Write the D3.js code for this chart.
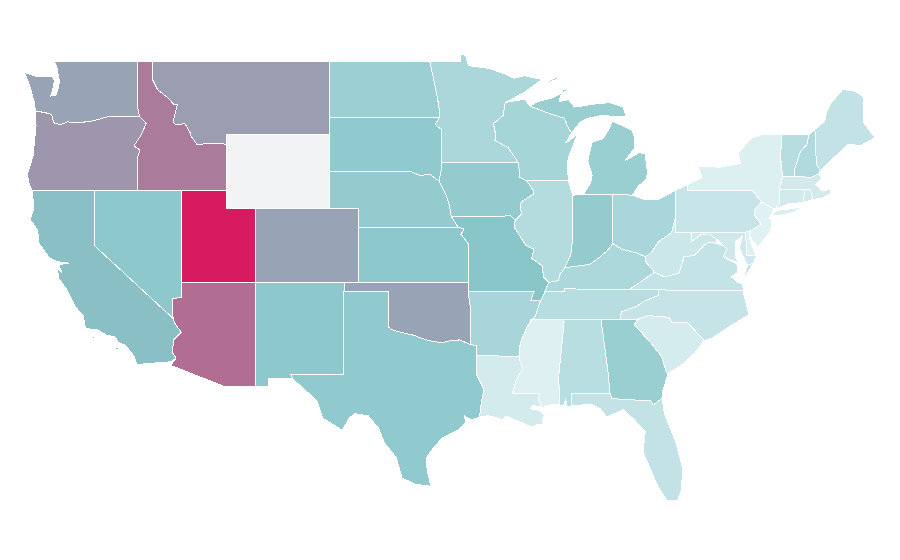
<!DOCTYPE html>
<html>
<head>
<meta charset="utf-8">
<script src="https://cdn.jsdelivr.net/npm/d3@7"></script>
<style>
  html, body { margin: 0; padding: 0; background: #fff; }
  svg { display: block; }
</style>
</head>
<body>
<script>
const stateNames = ["WA","OR","CA","NV","ID","MT","UT","AZ","CO","NM","ND","SD","NE","KS","OK","TX","MN","IA","MO","AR","LA","WI","IL","IN","MI","OH","KY","TN","MS","AL","GA","FL","SC","NC","VA","WV","PA","MD","DE","NJ","NY","CT","RI","MA","VT","NH","ME","WY"];

// values, Wyoming has none
const stateValues = [60,64,52,47,72,62,100,76,60,48,39,45,44,47,60,45,30,44,50,32,7,33,25,44,40,31,29,23,1,22,40,17,6,15,16,12,14,10,2,0,2,8,8,8,23,27,17,null];

const colorDomain = [0, 50, 100];
const colorRange = ["#e0f1f3", "#88c6ca", "#d81b60"];
const noDataColor = "#f2f3f5";

// lon/lat outlines, same order as stateNames
const stateShapes = [
  [[[-124.73,48.38],[-123.9,48.15],[-123.1,48.15],[-122.85,48.15],[-122.7,47.9],[-122.8,47.5],[-122.95,47.1],[-122.6,47.15],[-122.45,47.5],[-122.35,47.9],[-122.45,48.25],[-122.55,48.7],[-122.76,49],[-117.03,49],[-117.04,46.42],[-116.92,46],[-118.98,46],[-119.3,45.93],[-120.2,45.73],[-121.2,45.65],[-121.8,45.7],[-122.3,45.55],[-122.75,45.65],[-122.9,46.1],[-123.4,46.22],[-124,46.27],[-124.05,46.7],[-124.15,47],[-124.4,47.7]]],
  [[[-124,46.27],[-123.4,46.22],[-122.9,46.1],[-122.75,45.65],[-122.3,45.55],[-121.8,45.7],[-121.2,45.65],[-120.2,45.73],[-119.3,45.93],[-118.98,46],[-116.92,46],[-116.55,45.7],[-116.47,45.6],[-116.85,44.95],[-117.3,44.4],[-117.03,44.25],[-116.9,44.15],[-117.03,43.83],[-117.03,42],[-124.21,42],[-124.4,42.3],[-124.55,42.85],[-124.4,43.2],[-124.15,43.9],[-124.05,44.7],[-123.95,45.5]]],
  [[[-124.21,42],[-120,42],[-120,39],[-114.65,35.05],[-114.55,34.8],[-114.1,34.3],[-114.6,33.9],[-114.7,33.2],[-114.45,32.9],[-114.75,32.7],[-117.1,32.55],[-117.3,33],[-117.9,33.6],[-118.4,33.75],[-118.55,34.03],[-119.2,34.15],[-119.75,34.42],[-120.6,34.5],[-120.75,35.2],[-121.3,35.7],[-121.85,36.6],[-122.4,37.2],[-122.5,37.75],[-122.2,37.55],[-122.4,37.95],[-121.75,38.05],[-122.45,38.12],[-123,38.3],[-123.75,39.1],[-123.85,39.85],[-124.35,40.4],[-124.1,41]],
   [[-120.2,34.02],[-119.95,34.06],[-119.95,33.94],[-120.2,33.94]],[[-119.9,33.98],[-119.7,34.02],[-119.7,33.94],[-119.9,33.94]],[[-118.55,33.45],[-118.35,33.45],[-118.35,33.35],[-118.55,33.35]]],
  [[[-120,42],[-114.05,42],[-114.05,36.2],[-114.7,36.1],[-114.65,35.05],[-120,39]]],
  [[[-117.03,49],[-116.05,49],[-116.05,48],[-115.7,47.45],[-115,47],[-114.6,46.65],[-114.35,46.65],[-114.65,45.7],[-114.45,45.55],[-113.84,45.6],[-113.45,45.05],[-113.45,44.95],[-113,44.45],[-112.3,44.55],[-111.5,44.55],[-111.05,44.48],[-111.05,42],[-117.03,42],[-117.03,43.83],[-116.9,44.15],[-117.03,44.25],[-117.3,44.4],[-116.85,44.95],[-116.47,45.6],[-116.55,45.7],[-116.92,46],[-117.04,46.42]]],
  [[[-116.05,49],[-104.05,49],[-104.05,45],[-111.05,45],[-111.05,44.48],[-111.5,44.55],[-112.3,44.55],[-113,44.45],[-113.45,44.95],[-113.45,45.05],[-113.84,45.6],[-114.45,45.55],[-114.65,45.7],[-114.35,46.65],[-114.6,46.65],[-115,47],[-115.7,47.45],[-116.05,48]]],
  [[[-114.05,42],[-111.05,42],[-111.05,41],[-109.05,41],[-109.05,37],[-114.05,37]]],
  [[[-114.05,37],[-109.05,37],[-109.05,31.33],[-111.07,31.33],[-114.8,32.5],[-114.45,32.9],[-114.7,33.2],[-114.6,33.9],[-114.1,34.3],[-114.55,34.8],[-114.65,35.05],[-114.7,36.1],[-114.05,36.2]]],
  [[[-109.05,41],[-102.05,41],[-102.05,37],[-109.05,37]]],
  [[[-109.05,37],[-103,37],[-103.05,32],[-106.65,32],[-106.5,31.78],[-108.2,31.78],[-108.2,31.33],[-109.05,31.33]]],
  [[[-104.05,49],[-97.23,49],[-96.9,47.8],[-96.7,47],[-96.55,46.2],[-96.56,45.94],[-104.05,45.94]]],
  [[[-104.05,45.94],[-96.56,45.94],[-96.85,45.55],[-96.45,45.3],[-96.45,43.5],[-96.45,43.1],[-96.6,42.5],[-97.2,42.85],[-97.9,42.8],[-98.5,43],[-104.05,43]]],
  [[[-104.05,43],[-98.5,43],[-97.9,42.8],[-97.2,42.85],[-96.6,42.5],[-96.1,41.7],[-95.9,41.2],[-95.77,40.58],[-95.3,40],[-102.05,40],[-102.05,41],[-104.05,41]]],
  [[[-102.05,40],[-95.3,40],[-94.9,39.9],[-95.1,39.6],[-94.62,39.1],[-94.62,37],[-102.05,37]]],
  [[[-103,37],[-94.62,37],[-94.62,36.5],[-94.43,35.4],[-94.48,33.64],[-95.2,33.88],[-95.8,33.85],[-96.4,33.72],[-97,33.8],[-97.3,33.85],[-97.7,33.95],[-98.3,34.13],[-99.2,34.3],[-99.7,34.4],[-100,34.56],[-100,36.5],[-103,36.5]]],
  [[[-103.05,36.5],[-100,36.5],[-100,34.56],[-99.7,34.4],[-99.2,34.3],[-98.3,34.13],[-97.7,33.95],[-97.3,33.85],[-97,33.8],[-96.4,33.72],[-95.8,33.85],[-95.2,33.88],[-94.48,33.64],[-94.04,33.55],[-94.04,33.02],[-94.04,31.99],[-93.55,31.2],[-93.7,30.6],[-93.85,29.7],[-94.4,29.55],[-94.85,29.75],[-94.8,29.4],[-95.2,29.05],[-96.4,28.55],[-97,28],[-97.45,27.5],[-97.4,26.8],[-97.15,25.95],[-98.2,26.05],[-99.1,26.4],[-99.5,27.5],[-100.3,28.3],[-100.7,29.1],[-101.4,29.77],[-102.3,29.88],[-102.7,29.65],[-103.15,28.98],[-104.5,29.65],[-104.9,30.6],[-106.5,31.75],[-106.65,32],[-103.05,32]]],
  [[[-97.23,49],[-95.15,49],[-95.15,49.38],[-94.8,49.3],[-94.6,48.75],[-93.2,48.6],[-92.3,48.35],[-91.5,48.07],[-90.8,48.2],[-89.6,48],[-90.8,47.3],[-92.1,46.75],[-92.25,46.05],[-92.9,45.6],[-92.75,45],[-92.8,44.7],[-91.9,44.3],[-91.22,43.5],[-96.45,43.5],[-96.45,45.3],[-96.85,45.55],[-96.6,45.9],[-96.55,46.2],[-96.7,47],[-96.9,47.8]]],
  [[[-96.45,43.5],[-91.22,43.5],[-91.1,42.7],[-90.65,42.5],[-90.2,42],[-90.15,41.8],[-90.95,41.4],[-91.1,41.2],[-91,40.7],[-91.42,40.38],[-91.73,40.6],[-95.77,40.58],[-95.9,41.2],[-96.1,41.7],[-96.6,42.5],[-96.45,43.1]]],
  [[[-95.77,40.58],[-91.73,40.6],[-91.42,40.38],[-91.5,40],[-91.1,39.5],[-90.7,39],[-90.15,38.8],[-90.3,38.3],[-89.6,37.9],[-89.5,37.3],[-89.15,37],[-89.4,36.5],[-89.7,36],[-90.37,36],[-90.15,36.5],[-94.62,36.5],[-94.62,37],[-94.62,39.1],[-95.1,39.6],[-94.9,39.9],[-95.3,40]]],
  [[[-94.62,36.5],[-90.15,36.5],[-90.37,36],[-89.7,36],[-90.1,35.1],[-90.3,35],[-90.6,34.6],[-91,33.9],[-91.15,33.4],[-91.17,33],[-94.04,33.02],[-94.04,33.55],[-94.48,33.64],[-94.43,35.4]]],
  [[[-94.04,33.02],[-91.17,33],[-91.05,32.6],[-90.9,32.33],[-91.15,32],[-91.4,31.6],[-91.6,31],[-89.75,31],[-89.85,30.65],[-89.6,30.2],[-90.2,30.35],[-90.4,30.15],[-89.75,30.05],[-89.45,29.8],[-89.6,29.4],[-89.15,29.05],[-89.6,29.3],[-89.95,29.3],[-90.2,29.15],[-90.7,29.3],[-91.3,29.5],[-92,29.75],[-92.3,29.55],[-93.2,29.78],[-93.85,29.7],[-93.7,30.6],[-93.55,31.2],[-94.04,31.99]]],
  [[[-92.1,46.75],[-91.2,46.87],[-90.8,46.95],[-90.4,46.55],[-89.1,46.15],[-88.1,45.9],[-87.8,45.35],[-87.6,45.1],[-88,44.55],[-87.4,44.9],[-87.1,45.25],[-87.55,44.3],[-87.8,43.8],[-87.9,43.3],[-87.8,42.5],[-90.65,42.5],[-91.1,42.7],[-91.22,43.5],[-91.9,44.3],[-92.8,44.7],[-92.75,45],[-92.9,45.6],[-92.25,46.05]]],
  [[[-90.65,42.5],[-87.8,42.5],[-87.53,41.72],[-87.53,39.35],[-87.65,38.5],[-88.05,37.8],[-88.4,37.4],[-88.5,37.1],[-89.15,37],[-89.5,37.3],[-89.6,37.9],[-90.3,38.3],[-90.15,38.8],[-90.7,39],[-91.1,39.5],[-91.5,40],[-91.42,40.38],[-91,40.7],[-91.1,41.2],[-90.95,41.4],[-90.15,41.8],[-90.2,42]]],
  [[[-87.53,41.72],[-87.2,41.75],[-86.8,41.76],[-84.8,41.76],[-84.8,39.1],[-85.2,38.7],[-85.8,38.3],[-86.3,38],[-87,37.9],[-88.05,37.8],[-87.65,38.5],[-87.53,39.35]]],
  [[[-86.8,41.76],[-84.8,41.76],[-83.45,41.73],[-83.1,42.2],[-82.5,42.6],[-82.45,43],[-82.6,43.95],[-83,44.05],[-83.95,43.6],[-83.3,44.3],[-83.3,44.8],[-83.5,45.25],[-84.85,45.75],[-85,45.4],[-85.45,44.8],[-86.2,44.6],[-86.5,43.6],[-86.2,42.8],[-86.3,42.4]],
   [[-87.6,45.1],[-87,45.7],[-86.5,45.9],[-85.5,46.05],[-84.85,46],[-83.9,46],[-84.1,46.5],[-85,46.75],[-86.2,46.65],[-87.4,46.5],[-87.8,46.9],[-88.45,46.8],[-88.2,47.45],[-87.8,47.45],[-88.9,47],[-89.9,46.8],[-90.4,46.55],[-89.1,46.15],[-88.1,45.9],[-87.8,45.35]],
   [[-89.2,47.9],[-88.5,48.15],[-88.5,48.05],[-89.1,47.85]]],
  [[[-84.8,41.76],[-83.45,41.73],[-82.7,41.5],[-81.7,41.5],[-80.52,42],[-80.52,40.64],[-80.8,39.7],[-81.7,39.2],[-82.2,38.6],[-82.6,38.4],[-83.2,38.6],[-84.2,38.8],[-84.8,39.1]]],
  [[[-89.15,37],[-88.5,37.1],[-88.4,37.4],[-88.05,37.8],[-87,37.9],[-86.3,38],[-85.8,38.3],[-85.2,38.7],[-84.8,39.1],[-84.2,38.8],[-83.2,38.6],[-82.6,38.4],[-82.6,38.15],[-81.97,37.55],[-83.7,36.6],[-88.07,36.65],[-88.07,36.5],[-89.4,36.5]]],
  [[[-90.3,35],[-90.1,35.1],[-89.7,36],[-89.4,36.5],[-88.07,36.5],[-88.07,36.65],[-83.7,36.6],[-81.68,36.59],[-81.7,36.3],[-82.6,36],[-83.2,35.7],[-84.2,35.4],[-84.32,35],[-88.2,35]]],
  [[[-90.3,35],[-88.2,35],[-88.1,34.9],[-88.47,31.9],[-88.4,30.35],[-88.9,30.4],[-89.6,30.2],[-89.85,30.65],[-89.75,31],[-91.6,31],[-91.4,31.6],[-91.15,32],[-90.9,32.33],[-91.05,32.6],[-91.17,33],[-91.15,33.4],[-91,33.9],[-90.6,34.6]]],
  [[[-88.2,35],[-85.6,35],[-85.1,32],[-85,31],[-87.6,31],[-87.6,30.3],[-87.9,30.25],[-88,30.7],[-88.15,30.3],[-88.4,30.35],[-88.47,31.9],[-88.1,34.9]]],
  [[[-85.6,35],[-83.1,35],[-83.35,34.7],[-82.3,33.8],[-81.5,33],[-81.15,32.1],[-81.05,32.05],[-81.45,31],[-81.45,30.72],[-82.05,30.36],[-82.2,30.57],[-84.86,30.7],[-85,31],[-85.1,32]]],
  [[[-87.6,31],[-85,31],[-84.86,30.7],[-82.2,30.57],[-82.05,30.36],[-81.45,30.72],[-81.3,29.9],[-80.55,28.4],[-80.05,26.9],[-80.15,25.7],[-80.4,25.2],[-81.1,25.15],[-81.75,25.95],[-82.2,26.8],[-82.75,27.8],[-82.6,28.9],[-83.4,29.6],[-84.1,30.1],[-85.2,29.7],[-85.65,30.15],[-86.3,30.4],[-87.6,30.3]]],
  [[[-83.1,35],[-82.4,35.2],[-80.95,35.1],[-80.8,34.82],[-79.7,34.8],[-78.6,33.85],[-79.2,33.2],[-80,32.6],[-81.05,32.05],[-81.15,32.1],[-81.5,33],[-82.3,33.8],[-83.35,34.7]]],
  [[[-81.68,36.59],[-75.95,36.55],[-75.75,35.85],[-75.55,35.25],[-76.6,34.75],[-78,34],[-78.6,33.85],[-79.7,34.8],[-80.8,34.82],[-80.95,35.1],[-82.4,35.2],[-83.1,35],[-84.32,35],[-84.2,35.4],[-83.2,35.7],[-82.6,36],[-81.7,36.3]]],
  [[[-83.7,36.6],[-81.97,37.55],[-81.3,37.3],[-80.3,37.5],[-79.95,38.4],[-79.3,38.45],[-78.85,38.8],[-78.4,39.15],[-77.83,39.13],[-77.2,38.95],[-77.05,38.8],[-77.3,38.4],[-76.3,37.95],[-76.3,37.55],[-76.75,37.3],[-76.3,37],[-75.97,36.9],[-75.95,36.55],[-81.68,36.59]],
   [[-75.95,37.15],[-75.6,37.6],[-75.25,38.03],[-75.65,37.95]]],
  [[[-80.52,40.64],[-80.52,39.72],[-79.48,39.72],[-79.48,39.2],[-78.8,39.6],[-78.3,39.63],[-77.72,39.32],[-77.83,39.13],[-78.4,39.15],[-78.85,38.8],[-79.3,38.45],[-79.95,38.4],[-80.3,37.5],[-81.3,37.3],[-81.97,37.55],[-82.6,38.15],[-82.6,38.4],[-82.2,38.6],[-81.7,39.2],[-80.8,39.7]]],
  [[[-80.52,42],[-79.76,42.27],[-79.76,42],[-75.35,42],[-74.7,41.36],[-75.13,40.98],[-75.2,40.65],[-74.72,40.15],[-75.45,39.8],[-75.79,39.72],[-80.52,39.72]]],
  [[[-79.48,39.72],[-75.79,39.72],[-75.7,38.46],[-75.05,38.45],[-75.25,38.03],[-75.65,37.95],[-75.9,38.3],[-76.2,38.9],[-76,39.5],[-76.5,39.2],[-76.5,38.5],[-76.3,38.05],[-77.3,38.4],[-77.05,38.8],[-77.2,38.95],[-77.72,39.32],[-78.3,39.63],[-78.8,39.6],[-79.48,39.2]]],
  [[[-75.79,39.72],[-75.45,39.8],[-75.55,39.5],[-75.4,39.05],[-75.05,38.45],[-75.7,38.46]]],
  [[[-74.7,41.36],[-73.9,41],[-74,40.7],[-74.2,40.45],[-74,40.4],[-74.1,39.75],[-74.9,38.95],[-75.4,39.35],[-75.55,39.6],[-75.45,39.8],[-74.72,40.15],[-75.2,40.65],[-75.13,40.98]]],
  [[[-79.76,42],[-75.35,42],[-74.7,41.36],[-73.9,41],[-73.75,40.98],[-73.5,41.3],[-73.5,42.05],[-73.27,42.75],[-73.4,43.7],[-73.35,45],[-74.7,45],[-75.3,44.85],[-76.3,44.05],[-76.15,43.45],[-77.5,43.25],[-79,43.27],[-78.75,42.7],[-79.76,42.27]],
   [[-74,40.62],[-73.7,40.9],[-72.6,41],[-71.9,41.1],[-72.5,40.8],[-73.5,40.6]]],
  [[[-73.5,42.05],[-71.8,42.02],[-71.85,41.33],[-72.9,41.25],[-73.75,40.98],[-73.5,41.3]]],
  [[[-71.8,42.02],[-71.38,42.02],[-71.2,41.5],[-71.85,41.33]]],
  [[[-73.5,42.05],[-73.27,42.75],[-72.46,42.73],[-71.3,42.7],[-70.85,42.87],[-70.6,42.65],[-71,42.3],[-70.6,41.95],[-70.05,42.05],[-70,41.8],[-70.65,41.55],[-71.2,41.5],[-71.38,42.02],[-71.8,42.02]]],
  [[[-73.35,45],[-71.5,45],[-71.6,44.5],[-72.05,44.1],[-72.45,43.15],[-72.46,42.73],[-73.27,42.75],[-73.4,43.7]]],
  [[[-71.5,45],[-71.08,45.3],[-70.98,43.4],[-70.7,43.07],[-70.85,42.87],[-71.3,42.7],[-72.46,42.73],[-72.45,43.15],[-72.05,44.1],[-71.6,44.5]]],
  [[[-71.08,45.3],[-70.4,45.75],[-70.3,46.2],[-70,46.7],[-69.2,47.45],[-68.3,47.35],[-67.8,47.07],[-67.8,45.7],[-67.45,45.3],[-67,44.85],[-68,44.4],[-68.8,44.5],[-69.8,43.75],[-70.7,43.07],[-70.98,43.4]]],
  [[[-111.05,45],[-104.05,45],[-104.05,41],[-111.05,41]]]
];

const width = 900, height = 560;

// the map is a plain stretched lon/lat grid
const xScale = d3.scaleLinear().domain([-124.7, -67]).range([25, 875]);
const yScale = d3.scaleLinear().domain([49, 25.15]).range([61, 501]);
const color = d3.scaleLinear().domain(colorDomain).range(colorRange);

const grid = d3.geoTransform({
  point: function(lon, lat) { this.stream.point(xScale(lon), yScale(lat)); }
});
const path = d3.geoPath(grid);

const features = stateNames.map((name, i) => ({
  type: "Feature",
  properties: { name: name, value: stateValues[i] },
  geometry: {
    type: "MultiPolygon",
    coordinates: stateShapes[i].map(ring => [ring.concat([ring[0]])])
  }
}));

const svg = d3.select("body").append("svg")
  .attr("width", width)
  .attr("height", height);

svg.append("g")
  .selectAll("path")
  .data(features)
  .enter().append("path")
  .attr("d", path)
  .attr("fill", d => d.properties.value === null ? noDataColor : color(d.properties.value))
  .attr("stroke", "#fff")
  .attr("stroke-width", 1)
  .attr("shape-rendering", "crispEdges");
</script>
</body>
</html>
